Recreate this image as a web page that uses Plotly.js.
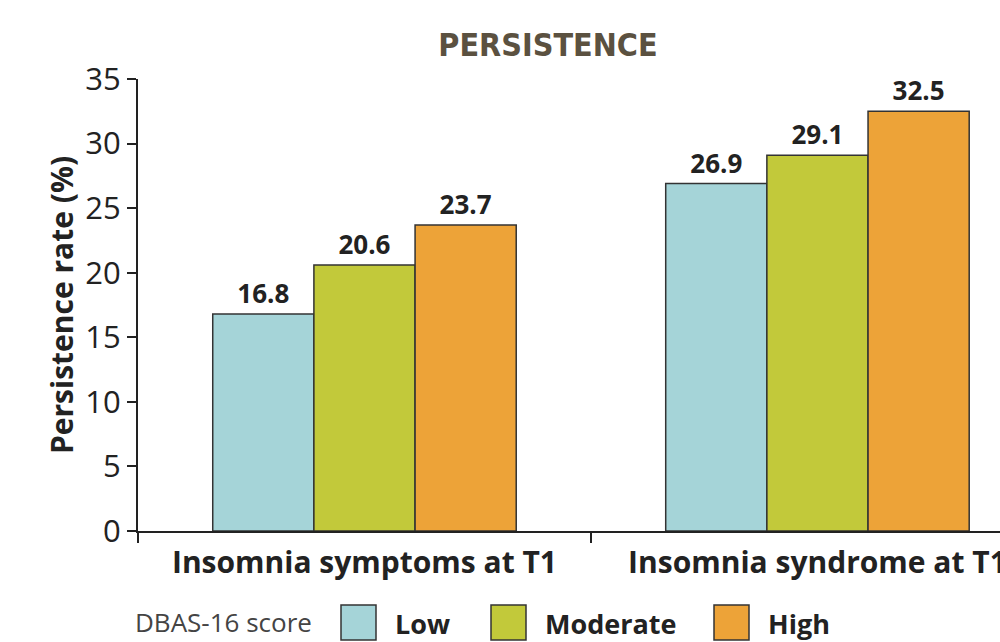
<!DOCTYPE html>
<html>
<head>
<meta charset="utf-8">
<script src="https://cdn.plot.ly/plotly-3.0.1.min.js"></script>
<style>html,body{margin:0;padding:0;background:#fff;}#chart{width:1000px;height:642px;}</style>
</head>
<body>
<div id="chart"></div>
<script>
const categories = ["Insomnia symptoms at T1", "Insomnia syndrome at T1"];
const seriesNames = ["Low", "Moderate", "High"];
const lowValues = [16.8, 26.9];
const moderateValues = [20.6, 29.1];
const highValues = [23.7, 32.5];
const seriesColors = ["#a5d4d8", "#c2c93a", "#eda338"];
const yTicks = [0, 5, 10, 15, 20, 25, 30, 35];
const legendTitle = "DBAS-16 score";

const seriesValues = [lowValues, moderateValues, highValues];
const traces = seriesNames.map((name, i) => ({
  type: "bar",
  name: name,
  x: categories,
  y: seriesValues[i],
  text: seriesValues[i].map(v => v.toFixed(1)),
  textposition: "outside",
  cliponaxis: false,
  textfont: {family: "Open Sans", size: 26, color: "#222", weight: 700},
  marker: {color: seriesColors[i], line: {color: "#333", width: 1.5}},
  hoverinfo: "skip"
}));

// legend drawn as shapes/annotations (paper coords)
const plotLeft = 138, plotRight = 1000, plotTop = 79, plotBottom = 531;
const pw = plotRight - plotLeft, ph = plotBottom - plotTop;
const px = p => (p - plotLeft) / pw;
const py = p => (plotBottom - p) / ph;
const boxLefts = [341, 491, 714];
const shapes = [];
const annotations = [{
  text: legendTitle, xref: "paper", yref: "paper", x: px(133), y: py(622),
  xanchor: "left", yanchor: "middle", showarrow: false,
  font: {family: "Open Sans", size: 26, color: "#444"}
}];
seriesNames.forEach((name, i) => {
  shapes.push({type: "rect", xref: "paper", yref: "paper",
    x0: px(boxLefts[i]), x1: px(boxLefts[i] + 35), y0: py(640), y1: py(605),
    fillcolor: seriesColors[i], line: {color: "#333", width: 1.5}});
  annotations.push({text: name, xref: "paper", yref: "paper",
    x: px(boxLefts[i] + 52), y: py(623), xanchor: "left", yanchor: "middle",
    showarrow: false, font: {family: "Open Sans", size: 27, color: "#222", weight: 700}});
});

const layout = {
  width: 1000, height: 642,
  margin: {l: plotLeft, r: 1000 - plotRight, t: plotTop, b: 642 - plotBottom},
  paper_bgcolor: "#fff", plot_bgcolor: "#fff",
  title: {text: "<b>PERSISTENCE</b>", x: 0.548, xref: "container", xanchor: "center",
    y: 1 - 45/642, yref: "container", yanchor: "middle",
    font: {family: "DejaVu Sans Condensed, Open Sans", size: 32, color: "#5b5140"}},
  barmode: "group", bargap: 0.33, bargroupgap: 0,
  showlegend: false,
  xaxis: {type: "category", range: [-0.5, 1.403], showline: true, linecolor: "#222", linewidth: 2,
    ticks: "outside", tickson: "boundaries", ticklen: 10, tickwidth: 2, tickcolor: "#222",
    ticklabelstandoff: 4,
    showgrid: false, zeroline: false, fixedrange: true,
    tickfont: {family: "Open Sans", size: 30, color: "#222", weight: 700}},
  yaxis: {range: [0, 35], tickvals: yTicks, showline: true, linecolor: "#222", linewidth: 2,
    ticks: "outside", ticklen: 9, tickwidth: 2, tickcolor: "#222", showgrid: false, zeroline: false,
    tickfont: {family: "Open Sans", size: 31, color: "#222"},
    title: {text: "Persistence rate (%)", standoff: 3,
      font: {family: "Open Sans", size: 30, color: "#222", weight: 700}}},
  shapes: shapes,
  annotations: annotations
};
Plotly.newPlot("chart", traces, layout, {displayModeBar: false, staticPlot: true});
</script>
</body>
</html>
